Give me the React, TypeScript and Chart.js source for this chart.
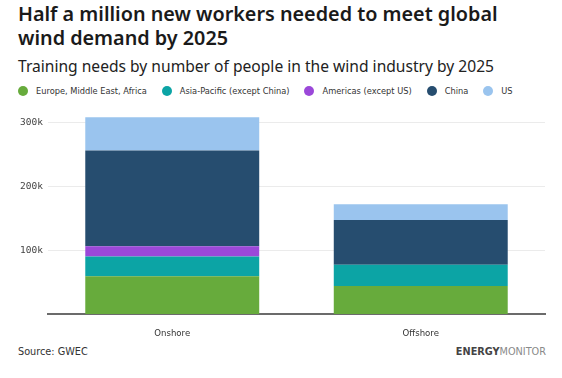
import React, { useEffect, useRef } from "react";
import { Chart, registerables } from "chart.js";

Chart.register(...registerables);

const categories = ["Onshore", "Offshore"];
const seriesNames = [
  "Europe, Middle East, Africa",
  "Asia-Pacific (except China)",
  "Americas (except US)",
  "China",
  "US",
];
const emea = [59000, 44000];
const apac = [31000, 33000];
const americas = [16000, 0];
const china = [150000, 70000];
const us = [52000, 25000];
const seriesColors = ["#67ab3c", "#0ca4a5", "#9b48d9", "#264d6f", "#9ac4ee"];
const yTicks = [100000, 200000, 300000];

const narrow = "'Liberation Sans Narrow', 'DejaVu Sans Condensed', 'Liberation Sans', sans-serif";

export default function App() {
  const ref = useRef<HTMLCanvasElement>(null);
  useEffect(() => {
    document.body.style.margin = "0";
    const values = [emea, apac, americas, china, us];
    const chart = new Chart(ref.current!, {
      type: "bar",
      data: {
        labels: categories,
        datasets: seriesNames.map((n, i) => ({
          label: n,
          data: values[i],
          backgroundColor: seriesColors[i],
          borderWidth: 0,
          barPercentage: 0.7,
          categoryPercentage: 1,
        })),
      },
      options: {
        animation: false,
        responsive: false,
        maintainAspectRatio: false,
        layout: { padding: { top: 16, right: 17, left: 0, bottom: 0 } },
        plugins: { legend: { display: false }, tooltip: { enabled: false } },
        scales: {
          x: {
            stacked: true,
            grid: { display: false },
            border: { display: true, color: "#6b6b6b", width: 2 },
            ticks: { color: "#333", font: { family: narrow, size: 9.5 }, padding: 6 },
            afterFit: (s: any) => {
              s.height = 26;
            },
          },
          y: {
            stacked: true,
            min: 0,
            max: 310000,
            border: { display: false },
            grid: { color: "#ebebeb", lineWidth: 1, drawTicks: false },
            afterBuildTicks: (s: any) => {
              s.ticks = yTicks.map((v) => ({ value: v }));
            },
            ticks: {
              color: "#444",
              padding: 5,
              font: { family: "'DejaVu Sans Mono', monospace", size: 9.5 },
              callback: (v: any) => Number(v) / 1000 + "k",
            },
            afterFit: (s: any) => {
              s.width = 48;
            },
          },
        },
      },
    });
    return () => chart.destroy();
  }, []);

  return (
    <div style={{ position: "absolute", left: 0, top: 0, width: 562, height: 378, background: "#fff", overflow: "hidden" }}>
      <div
        style={{
          position: "absolute",
          left: 18,
          top: 2,
          fontFamily: "'Noto Sans', sans-serif",
          fontWeight: 600,
          fontSize: 19.8,
          lineHeight: "24px",
          color: "#1a1a1a",
          whiteSpace: "nowrap",
        }}
      >
        Half a million new workers needed to meet global
        <br />
        wind demand by 2025
      </div>
      <div
        style={{
          position: "absolute",
          left: 18,
          top: 57,
          fontFamily: "'Noto Sans', sans-serif",
          fontSize: 15.6,
          lineHeight: "18px",
          color: "#222",
          whiteSpace: "nowrap",
        }}
      >
        Training needs by number of people in the wind industry by 2025
      </div>
      <div
        style={{
          position: "absolute",
          left: 18,
          top: 84,
          height: 14,
          display: "flex",
          alignItems: "center",
          whiteSpace: "nowrap",
          fontFamily: narrow,
          fontSize: 9.2,
          color: "#333",
        }}
      >
        {seriesNames.map((n, i) => (
          <div key={n} style={{ display: "flex", alignItems: "center", marginRight: i < 4 ? 15 : 0 }}>
            <div style={{ width: 10, height: 10, borderRadius: 5, background: seriesColors[i], marginRight: 8 }} />
            <span style={{ lineHeight: "14px" }}>{n}</span>
          </div>
        ))}
      </div>
      <canvas ref={ref} width={562} height={240} style={{ position: "absolute", left: 0, top: 100, width: 562, height: 240 }} />
      <div
        style={{
          position: "absolute",
          left: 18,
          top: 345,
          fontFamily: narrow,
          fontSize: 10.8,
          lineHeight: "14px",
          color: "#333",
        }}
      >
        Source: GWEC
      </div>
      <div
        style={{
          position: "absolute",
          right: 16,
          top: 345,
          fontFamily: narrow,
          fontSize: 10.8,
          lineHeight: "14px",
          whiteSpace: "nowrap",
        }}
      >
        <span style={{ fontWeight: 700, color: "#444" }}>ENERGY</span>
        <span style={{ color: "#8a8a8a" }}>MONITOR</span>
      </div>
    </div>
  );
}
